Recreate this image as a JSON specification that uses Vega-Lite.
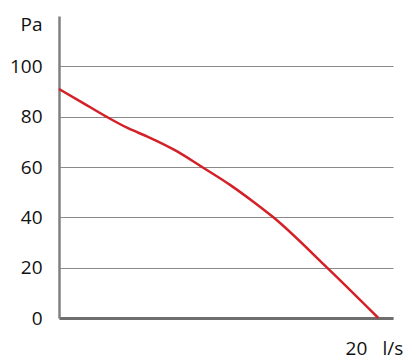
{
  "$schema": "https://vega.github.io/schema/vega-lite/v6.json",
  "autosize": "none",
  "width": 334,
  "height": 302,
  "padding": {"left": 59, "top": 16, "right": 12, "bottom": 43},
  "background": "white",
  "config": {
    "view": {"stroke": null},
    "font": "Open Sans"
  },
  "data": {
    "values": [
      {"flow": 0, "pressure": 91.0},
      {"flow": 1.6, "pressure": 85.5},
      {"flow": 3.19, "pressure": 80.0},
      {"flow": 4.65, "pressure": 75.4},
      {"flow": 5.99, "pressure": 72.0},
      {"flow": 7.9, "pressure": 66.4},
      {"flow": 9.61, "pressure": 60.1},
      {"flow": 11.52, "pressure": 52.9},
      {"flow": 13.09, "pressure": 46.2},
      {"flow": 14.44, "pressure": 40.0},
      {"flow": 18.04, "pressure": 20.1},
      {"flow": 21.51, "pressure": 0}
    ]
  },
  "mark": {"type": "line", "color": "#d42027", "strokeWidth": 2.5, "interpolate": "monotone"},
  "encoding": {
    "x": {
      "field": "flow",
      "type": "quantitative",
      "scale": {"domain": [0, 22.5], "nice": false, "zero": true},
      "axis": {
        "values": [20],
        "grid": false,
        "ticks": false,
        "domain": true,
        "domainColor": "#6e6e6e",
        "domainWidth": 3,
        "labelFontSize": 19,
        "labelColor": "#111111",
        "labelBaseline": "middle",
        "labelPadding": 30,
        "title": "l/s",
        "titleFontSize": 19,
        "titleFontWeight": "normal",
        "titleColor": "#111111",
        "titleAlign": "left",
        "titleBaseline": "middle",
        "titleX": 323,
        "titleY": 30,
        "titleAngle": 0
      }
    },
    "y": {
      "field": "pressure",
      "type": "quantitative",
      "scale": {"domain": [0, 120], "nice": false},
      "axis": {
        "values": [0, 20, 40, 60, 80, 100],
        "grid": true,
        "gridColor": "#8a8a8a",
        "gridWidth": 1,
        "ticks": false,
        "domain": true,
        "domainColor": "#808080",
        "domainWidth": 2.5,
        "labelFontSize": 19,
        "labelColor": "#111111",
        "labelPadding": 17,
        "labelBaseline": "middle",
        "title": "Pa",
        "titleFontSize": 19,
        "titleFontWeight": "normal",
        "titleColor": "#111111",
        "titleAngle": 0,
        "titleAlign": "right",
        "titleBaseline": "middle",
        "titleX": -17,
        "titleY": 8
      }
    }
  }
}
